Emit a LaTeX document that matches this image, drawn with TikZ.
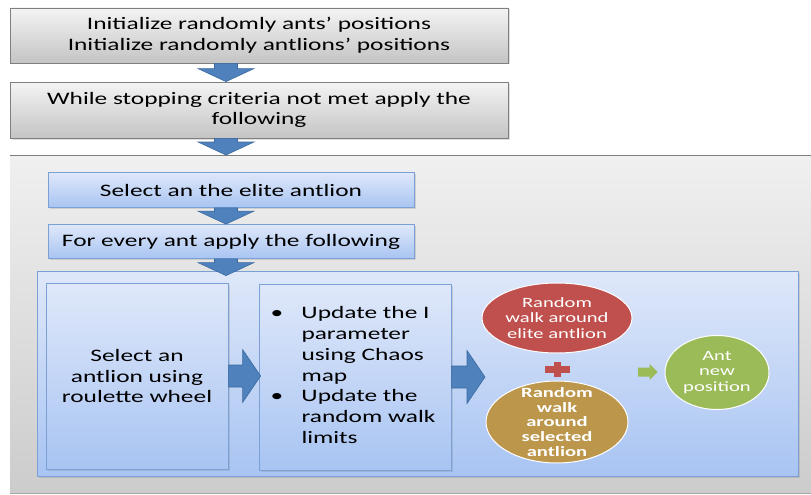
\documentclass[tikz,border=0pt]{standalone}
\usepackage{fontspec}
\setmainfont{Carlito}[FakeStretch=1.45]
\usepackage{array}
\usetikzlibrary{calc,shapes.geometric,shadows}
\definecolor{arrowblue}{HTML}{4F81BD}
\definecolor{arrowedge}{HTML}{3C6AA0}
\definecolor{bluetop}{HTML}{DFE8FA}
\definecolor{bluebot}{HTML}{A8C4F2}
\definecolor{blueedge}{HTML}{7BA0D6}
\definecolor{graytop}{HTML}{F4F4F4}
\definecolor{graybot}{HTML}{C4C4C4}
\definecolor{grayedge}{HTML}{7F7F7F}
\definecolor{paneltop}{HTML}{F0F0F0}
\definecolor{panelbot}{HTML}{CCCCCC}
\definecolor{redell}{HTML}{C0504D}
\definecolor{goldell}{HTML}{BB964B}
\definecolor{greenell}{HTML}{9BBB59}
\newcommand\blkdown[2]{%
  \path[blk] let \p1=(#1), \p2=(#2) in
    (\x1-11.5pt,\y1) -- (\x1+11.5pt,\y1) -- (\x1+11.5pt,\y2+13pt) -- (\x1+28pt,\y2+13pt)
    -- (\x1,\y2) -- (\x1-28pt,\y2+13pt) -- (\x1-11.5pt,\y2+13pt) -- cycle;}
\newcommand\blkright[2]{%
  \path[blk] let \p1=(#1), \p2=(#2) in
    (\x1,\y1+11pt) -- (\x2-18pt,\y1+11pt) -- (\x2-18pt,\y1+26.5pt) -- (\x2,\y1)
    -- (\x2-18pt,\y1-26.5pt) -- (\x2-18pt,\y1-11pt) -- (\x1,\y1-11pt) -- cycle;}
\begin{document}
\begin{tikzpicture}[x=1pt,y=-1pt,
  txt/.style={font=\fontsize{17.5}{20.8}\selectfont, align=center, text=black},
  graybox/.style={txt, draw=grayedge, line width=0.8pt, top color=graytop, bottom color=graybot,
    drop shadow={opacity=0.25, shadow xshift=1.5pt, shadow yshift=-1.5pt}},
  bluebox/.style={txt, draw=blueedge, line width=0.8pt, top color=bluetop, bottom color=bluebot,
    drop shadow={opacity=0.25, shadow xshift=1.5pt, shadow yshift=-1.5pt}},
  blk/.style={fill=arrowblue, draw=arrowedge, line width=0.6pt},
  ell/.style={ellipse, draw=white, line width=1pt, inner sep=0pt, align=center, text=white,
    font=\fontsize{14.2}{15.3}\selectfont},
]
\useasboundingbox (0,0) rectangle (811,495);
\fill[white] (0,0) rectangle (811,495);

% outer gray panel
\node[anchor=north west, minimum width=801pt, minimum height=338pt, inner sep=0pt,
  top color=paneltop, bottom color=panelbot] (panel) at (10,155) {};
\draw[grayedge, line width=0.8pt] (panel.north west) -- (panel.north east);
\draw[gray!70, line width=0.5pt] (panel.south west) -- (panel.south east);

\coordinate (ax) at (226,0);

% top boxes
\node[graybox, minimum width=498pt, minimum height=55pt] (b1) at (259,35.5)
  {Initialize randomly ants’ positions\\Initialize randomly antlions’ positions};
\node[graybox, minimum width=498pt, minimum height=56pt] (b2) at (259,110)
  {While stopping criteria not met apply the\\following};

\node[bluebox, minimum width=366pt, minimum height=35pt] (b3) at (231,190) {Select an the elite antlion};
\node[bluebox, minimum width=366pt, minimum height=34pt] (b4) at (231,241.5) {For every ant apply the following};

% inner blue panel
\node[draw=blueedge, line width=0.8pt, top color=bluetop, bottom color=bluebot, minimum width=761pt,
  minimum height=205pt, inner sep=0pt,
  drop shadow={opacity=0.25, shadow xshift=1.5pt, shadow yshift=-1.5pt}] (bp) at (417.5,373.5) {};

\node[bluebox, minimum width=182pt, minimum height=186pt] (b5) at (137,376)
  {Select an\\antlion using\\roulette wheel};
\node[bluebox, minimum width=192pt, minimum height=186pt, inner sep=0pt] (b6) at (355,377)
  {\begin{tabular}{@{}>{\raggedright\arraybackslash}p{31pt}@{}>{\raggedright\arraybackslash}p{138pt}@{}}
   \textbullet & Update the I parameter using Chaos map\\
   \textbullet & Update the random walk limits
   \end{tabular}};

% ellipses
\node[ell, fill=redell, minimum width=150pt, minimum height=70pt] (red) at (557,318)
  {Random\\walk around\\elite antlion};
\node[ell, fill=goldell, minimum width=142pt, minimum height=82pt, inner ysep=-12pt,
  font=\bfseries\fontsize{14.2}{14.7}\selectfont] (gold) at (557,422)
  {Random\\walk\\around\\selected\\antlion};
\node[ell, fill=greenell, minimum width=104pt, minimum height=74pt] (green) at (717,372.5)
  {Ant\\new\\position};

% plus sign
\coordinate (plus) at (557,369);
\fill[redell] ($(plus)+(-12.5,-3.5)$) rectangle ($(plus)+(12.5,3.5)$);
\fill[redell] ($(plus)+(-3.5,-7.5)$) rectangle ($(plus)+(3.5,7.5)$);

% block arrows
\blkdown{b1.south -| ax}{b2.north -| ax}
\blkdown{b2.south -| ax}{panel.north -| ax}
\blkdown{b3.south -| ax}{b4.north -| ax}
\blkdown{b4.south -| ax}{$(bp.north -| ax)+(0,5)$}
\coordinate (a2end) at (485,376);
\blkright{b5.east}{$(b6.west)+(2,-1)$}
\blkright{b6.east}{a2end}

% green arrow
\coordinate (gstart) at (638,372);
\coordinate (gend) at ($(green.west)+(-7,0)$);
\path[fill=greenell] let \p1=(gstart), \p2=(gend) in
  (\x1,\y1+4.5pt) -- (\x2-8pt,\y1+4.5pt) -- (\x2-8pt,\y1+8pt) -- (\x2,\y1)
  -- (\x2-8pt,\y1-8pt) -- (\x2-8pt,\y1-4.5pt) -- (\x1,\y1-4.5pt) -- cycle;
\end{tikzpicture}
\end{document}
